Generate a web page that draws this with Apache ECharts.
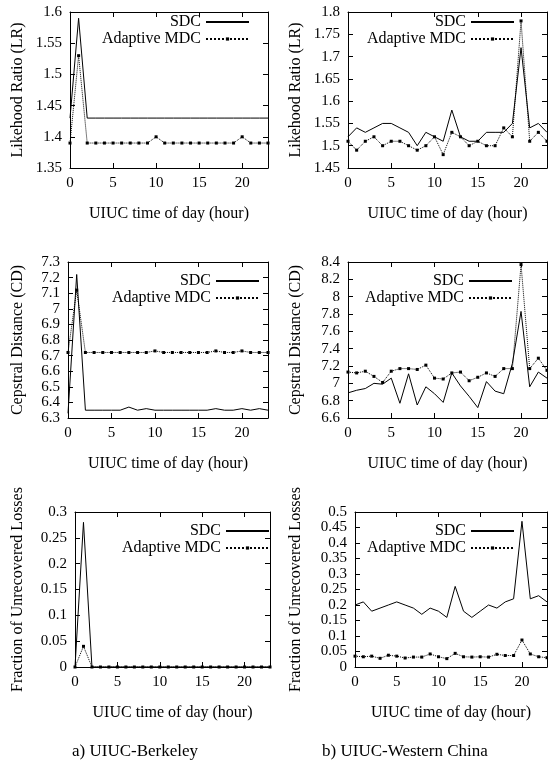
<!DOCTYPE html>
<html>
<head>
<meta charset="utf-8">
<script src="https://cdn.jsdelivr.net/npm/echarts@6/dist/echarts.min.js"></script>
<style>
  html, body { margin: 0; padding: 0; background: #fff; }
  #chart { width: 548px; height: 773px; }
</style>
</head>
<body>
<div id="chart"></div>
<script>
// hour of day (x axis)
const hours = [0, 1, 2, 3, 4, 5, 6, 7, 8, 9, 10, 11, 12, 13, 14, 15, 16, 17, 18, 19, 20, 21, 22, 23]

// a) UIUC-Berkeley
const lrBerkSdc = [1.43, 1.59, 1.43, 1.43, 1.43, 1.43, 1.43, 1.43, 1.43, 1.43, 1.43, 1.43, 1.43, 1.43, 1.43, 1.43, 1.43, 1.43, 1.43, 1.43, 1.43, 1.43, 1.43, 1.43]
const lrBerkMdc = [1.39, 1.53, 1.39, 1.39, 1.39, 1.39, 1.39, 1.39, 1.39, 1.39, 1.40, 1.39, 1.39, 1.39, 1.39, 1.39, 1.39, 1.39, 1.39, 1.39, 1.40, 1.39, 1.39, 1.39]
const cdBerkSdc = [6.33, 7.22, 6.35, 6.35, 6.35, 6.35, 6.35, 6.37, 6.35, 6.36, 6.35, 6.35, 6.35, 6.35, 6.35, 6.35, 6.35, 6.36, 6.35, 6.35, 6.36, 6.35, 6.36, 6.35]
const cdBerkMdc = [6.72, 7.12, 6.72, 6.72, 6.72, 6.72, 6.72, 6.72, 6.72, 6.72, 6.73, 6.72, 6.72, 6.72, 6.72, 6.72, 6.72, 6.73, 6.72, 6.72, 6.73, 6.72, 6.72, 6.72]
const lossBerkSdc = [0, 0.28, 0, 0, 0, 0, 0, 0, 0, 0, 0, 0, 0, 0, 0, 0, 0, 0, 0, 0, 0, 0, 0, 0]
const lossBerkMdc = [0, 0.04, 0, 0, 0, 0, 0, 0, 0, 0, 0, 0, 0, 0, 0, 0, 0, 0, 0, 0, 0, 0, 0, 0]

// b) UIUC-Western China
const lrChinaSdc = [1.52, 1.54, 1.53, 1.54, 1.55, 1.55, 1.54, 1.53, 1.50, 1.53, 1.52, 1.51, 1.58, 1.52, 1.51, 1.51, 1.53, 1.53, 1.53, 1.55, 1.72, 1.54, 1.55, 1.53]
const lrChinaMdc = [1.51, 1.49, 1.51, 1.52, 1.50, 1.51, 1.51, 1.50, 1.49, 1.50, 1.52, 1.48, 1.53, 1.52, 1.50, 1.51, 1.50, 1.50, 1.54, 1.52, 1.78, 1.51, 1.53, 1.51]
const cdChinaSdc = [6.89, 6.92, 6.94, 7.00, 6.99, 7.06, 6.77, 7.11, 6.75, 6.96, 6.88, 6.78, 7.12, 6.97, 6.85, 6.72, 7.02, 6.91, 6.88, 7.23, 7.83, 6.96, 7.13, 7.06]
const cdChinaMdc = [7.13, 7.12, 7.14, 7.08, 7.01, 7.14, 7.17, 7.17, 7.16, 7.21, 7.06, 7.05, 7.12, 7.13, 7.03, 7.07, 7.12, 7.08, 7.17, 7.17, 8.37, 7.17, 7.29, 7.15]
const lossChinaSdc = [0.20, 0.21, 0.18, 0.19, 0.20, 0.21, 0.20, 0.19, 0.17, 0.19, 0.18, 0.16, 0.26, 0.18, 0.16, 0.18, 0.20, 0.19, 0.21, 0.22, 0.47, 0.22, 0.23, 0.21]
const lossChinaMdc = [0.035, 0.033, 0.035, 0.028, 0.038, 0.035, 0.029, 0.032, 0.032, 0.042, 0.033, 0.027, 0.044, 0.033, 0.032, 0.033, 0.032, 0.041, 0.037, 0.037, 0.087, 0.042, 0.033, 0.030]

const FONT = 'Liberation Serif'

// one entry per panel: grid box, y range, y title, legend position
const panels = [
  { grid: { left: 70, top: 12, width: 198, height: 156 }, min: 1.35, max: 1.6, step: 0.05, name: 'Likehood Ratio (LR)', gap: 44, sdc: lrBerkSdc, mdc: lrBerkMdc, lr: 298, lt: 11 },
  { grid: { left: 348, top: 12, width: 199, height: 156 }, min: 1.45, max: 1.8, step: 0.05, name: 'Likehood Ratio (LR)', gap: 44, sdc: lrChinaSdc, mdc: lrChinaMdc, lr: 33, lt: 11 },
  { grid: { left: 68, top: 262, width: 200, height: 156 }, min: 6.3, max: 7.3, step: 0.1, name: 'Cepstral Distance (CD)', gap: 42, sdc: cdBerkSdc, mdc: cdBerkMdc, lr: 288, lt: 270 },
  { grid: { left: 348, top: 262, width: 199, height: 156 }, min: 6.6, max: 8.4, step: 0.2, name: 'Cepstral Distance (CD)', gap: 44, sdc: cdChinaSdc, mdc: cdChinaMdc, lr: 35, lt: 270 },
  { grid: { left: 75, top: 512, width: 195, height: 155 }, min: 0, max: 0.3, step: 0.05, name: 'Fraction of Unrecovered Losses', gap: 49, sdc: lossBerkSdc, mdc: lossBerkMdc, lr: 278, lt: 520 },
  { grid: { left: 355, top: 512, width: 192, height: 155 }, min: 0, max: 0.5, step: 0.05, name: 'Fraction of Unrecovered Losses', gap: 51, sdc: lossChinaSdc, mdc: lossChinaMdc, lr: 33, lt: 520 }
]

const axisLine = { show: true, onZero: false, lineStyle: { color: '#000', width: 1 } }
const tick = { show: true, inside: true, length: 5, lineStyle: { color: '#000' } }
const label = { color: '#000', fontFamily: FONT, fontSize: 15, margin: 8 }

let grids = [], xAxes = [], yAxes = [], series = [], legends = []

panels.forEach((p, i) => {
  grids.push(p.grid)
  // bottom + top x axis (gnuplot style box with mirrored ticks)
  xAxes.push({
    gridIndex: i, type: 'value', min: 0, max: 23, interval: 5, position: 'bottom',
    axisLine: axisLine, axisTick: tick, axisLabel: Object.assign({ showMaxLabel: false }, label),
    splitLine: { show: false },
    name: 'UIUC time of day (hour)', nameLocation: 'middle', nameGap: 38,
    nameTextStyle: { color: '#000', fontFamily: FONT, fontSize: 16 }
  })
  xAxes.push({
    gridIndex: i, type: 'value', min: 0, max: 23, interval: 5, position: 'top',
    axisLine: axisLine, axisTick: tick, axisLabel: { show: false }, splitLine: { show: false }
  })
  // left + right y axis
  yAxes.push({
    gridIndex: i, type: 'value', min: p.min, max: p.max, interval: p.step, position: 'left',
    axisLine: axisLine, axisTick: tick, axisLabel: label,
    splitLine: { show: false },
    name: p.name, nameLocation: 'middle', nameGap: p.gap, nameRotate: 90,
    nameTextStyle: { color: '#000', fontFamily: FONT, fontSize: 16 }
  })
  yAxes.push({
    gridIndex: i, type: 'value', min: p.min, max: p.max, interval: p.step, position: 'right',
    axisLine: axisLine, axisTick: tick, axisLabel: { show: false }, splitLine: { show: false }
  })

  series.push({
    name: 'SDC', type: 'line', xAxisIndex: i * 2, yAxisIndex: i * 2,
    data: hours.map((h, k) => [h, p.sdc[k]]),
    symbol: 'none', lineStyle: { color: '#000', width: 1 }, itemStyle: { color: '#000' },
    z: 3
  })
  series.push({
    name: 'Adaptive MDC', type: 'line', xAxisIndex: i * 2, yAxisIndex: i * 2,
    data: hours.map((h, k) => [h, p.mdc[k]]),
    symbol: 'rect', symbolSize: 3, showSymbol: true,
    lineStyle: { color: '#000', width: 1, type: 'dotted' }, itemStyle: { color: '#000' },
    z: 2
  })

  const legendBase = {
    orient: 'vertical', align: 'right', right: p.lr, itemWidth: 43, itemHeight: 4,
    selectedMode: false, padding: 0,
    textStyle: { color: '#000', fontFamily: FONT, fontSize: 16 }
  }
  // SDC key is a plain line, no marker
  legends.push(Object.assign({}, legendBase, { top: p.lt + 3, data: ['SDC'], itemStyle: { opacity: 0 } }))
  legends.push(Object.assign({}, legendBase, { top: p.lt + 20, data: ['Adaptive MDC'] }))
})

const chart = echarts.init(document.getElementById('chart'))
chart.setOption({
  backgroundColor: '#fff',
  animation: false,
  grid: grids,
  xAxis: xAxes,
  yAxis: yAxes,
  legend: legends,
  series: series,
  graphic: [
    { type: 'text', x: 135, y: 743, style: { text: 'a) UIUC-Berkeley', font: '17px "Liberation Serif"', fill: '#000', textAlign: 'center' } },
    { type: 'text', x: 405, y: 743, style: { text: 'b) UIUC-Western China', font: '17px "Liberation Serif"', fill: '#000', textAlign: 'center' } }
  ]
})
</script>
</body>
</html>
